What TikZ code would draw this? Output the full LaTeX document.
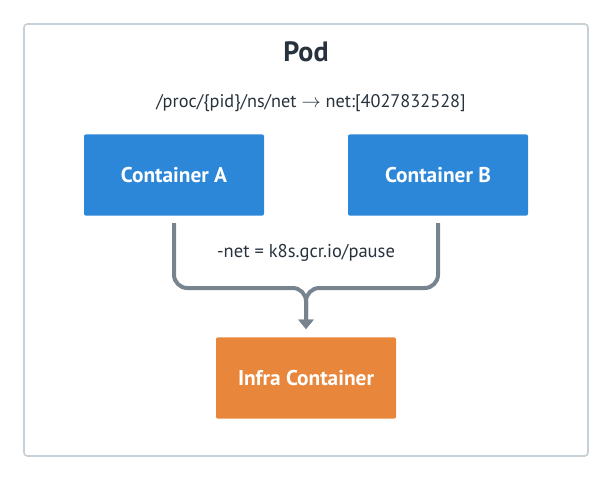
\documentclass[tikz,border=0pt]{standalone}
\usepackage{fontspec}
\setmainfont{PT Sans}
\usetikzlibrary{arrows.meta}
\definecolor{boxblue}{HTML}{2D87D9}
\definecolor{boxorange}{HTML}{E8873B}
\definecolor{linegray}{HTML}{77848F}
\definecolor{framegray}{HTML}{C7CFD7}
\definecolor{textdark}{HTML}{27323D}
\tikzset{
  podframe/.style={draw=framegray, line width=1.2pt, rounded corners=2.5pt},
  box/.style={rectangle, rounded corners=1.5pt, text=white, font=\fontsize{16}{18}\selectfont\bfseries,
    minimum width=135pt, minimum height=61pt},
  link/.style={draw=linegray, line width=3pt, rounded corners=10pt},
}
\begin{document}
\begin{tikzpicture}[x=0.75pt,y=-0.75pt]
        \useasboundingbox (0,0) rectangle (612,480);
        \draw[podframe] (24,24) rectangle (588,456);

        \begin{scope}[every node/.style={text=textdark}]
          \node (pod)  at (306,52)  {\fontsize{21}{24}\selectfont\bfseries Pod};
          \node (ns)   at (311,103) {\fontsize{13.7}{16}\selectfont /proc/\{pid\}/ns/net $\rightarrow$ net:[4027832528]};
          \node (flag) at (306,253) {\fontsize{13.9}{16}\selectfont -net = k8s.gcr.io/pause};
        \end{scope}

        \begin{scope}[every node/.style={box}]
          \node[fill=boxblue]   (ca)    at (174,175) {Container A};
          \node[fill=boxblue]   (cb)    at (438,175) {Container B};
          \node[fill=boxorange] (infra) at (306,378) {Infra Container};
        \end{scope}

        \coordinate (join) at (306,288);
        \coordinate (outa) at (174,223);
        \coordinate (outb) at (438,223);

        \draw[link, -{Triangle[length=7pt,width=11pt]}, shorten >=6pt] (outa) |- (join) -- (infra.north);
        \draw[link, -{Triangle[length=7pt,width=11pt]}, shorten >=6pt] (outb) |- (join) -- (infra.north);

      \end{tikzpicture}
\end{document}
